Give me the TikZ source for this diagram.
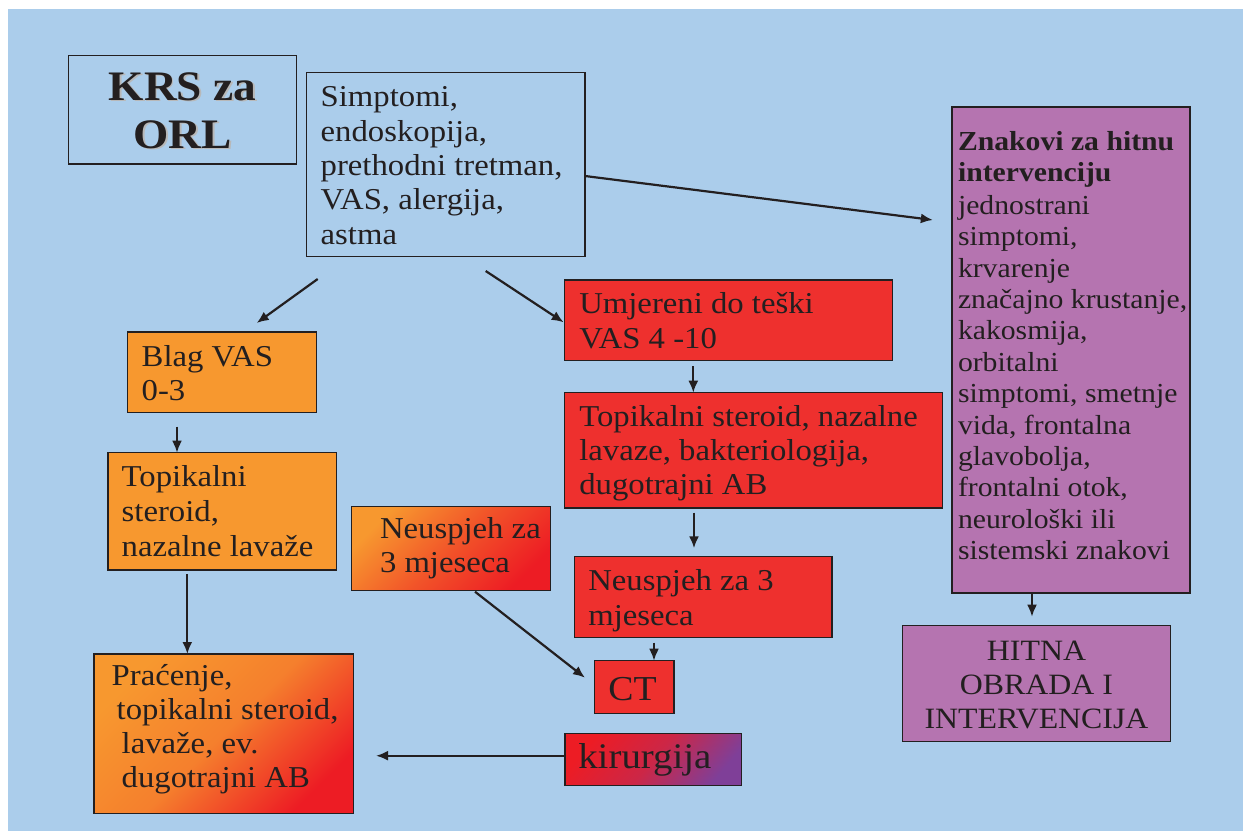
\documentclass[tikz,border=0pt]{standalone}
\usepackage{fontspec}
\setmainfont{Liberation Serif}[FakeStretch=1.08]
\usetikzlibrary{calc,arrows.meta}
\definecolor{bgblue}{HTML}{ABCDEB}
\definecolor{orangeb}{HTML}{F7982F}
\definecolor{redb}{HTML}{EE302E}
\definecolor{redg}{HTML}{ED1C24}
\definecolor{purpleb}{HTML}{B574B0}
\definecolor{purpleg}{HTML}{7F3F98}
\definecolor{ink}{HTML}{231F20}
\tikzset{
  box/.style={draw=ink, line width=1.2pt, inner sep=0pt, outer sep=0pt, anchor=north west},
  txt/.style={anchor=base west, inner sep=0pt, outer sep=0pt, text=ink},
  arr/.style={draw=ink, line width=2.2pt, -{Latex[length=12pt,width=10pt]}},
}
\begin{document}
\begin{tikzpicture}[x=1pt,y=-1pt]
\useasboundingbox (0,0) rectangle (1243,831);
\fill[white] (0,0) rectangle (1243,831);
\fill[bgblue] (8,9) rectangle (1243,831);

% boxes
\node[box, minimum width=228.4pt, minimum height=108.3pt] (krs) at (68.3,55.7) {};
\node[box, minimum width=278.3pt, minimum height=184pt] (simp) at (306.7,72.7) {};
\node[box, fill=purpleb, minimum width=238pt, minimum height=486pt] (znak) at (952,107) {};
\node[box, fill=purpleb, minimum width=268.4pt, minimum height=115.6pt] (hitna) at (902.3,625.7) {};
\node[box, fill=orangeb, minimum width=189pt, minimum height=80.7pt] (blag) at (127.7,332) {};
\node[box, fill=orangeb, minimum width=228.7pt, minimum height=117.3pt] (top1) at (108,452.7) {};
\node[box, top color=orangeb, bottom color=redg, middle color=orangeb!80!redg, shading angle=45, minimum width=259.3pt, minimum height=159.3pt] (prac) at (94,654) {};
\node[box, fill=redb, minimum width=328pt, minimum height=80.7pt] (umj) at (564.7,280) {};
\node[box, fill=redb, minimum width=377.6pt, minimum height=115.3pt] (top2) at (564.7,392.7) {};
\node[box, top color=orangeb, bottom color=redg, middle color=orangeb!45!redg, shading angle=45, minimum width=199pt, minimum height=84pt] (neu1) at (351.7,506.7) {};
\node[box, fill=redb, minimum width=257.7pt, minimum height=80.6pt] (neu2) at (574.3,556.7) {};
\node[box, fill=redb, minimum width=79.7pt, minimum height=52.6pt] (ct) at (594.3,660.7) {};
\node[box, top color=redg, bottom color=purpleg, middle color=redg!70!purpleg, shading angle=50, minimum width=176.7pt, minimum height=52.4pt] (kir) at (565,733.3) {};

% texts
\node[txt, text=black!28] (krsshadow) at (70,101.5) {\parbox[t]{228.4pt}{\centering\fontsize{42}{48.3}\selectfont\bfseries KRS za\\ORL}};
\node[txt] (krst) at (68.3,100) {\parbox[t]{228.4pt}{\centering\fontsize{42}{48.3}\selectfont\bfseries KRS za\\ORL}};
\node[txt] (simpt) at (320.7,106.7) {\parbox[t]{270pt}{\fontsize{30.3}{34.4}\selectfont Simptomi,\\endoskopija,\\prethodni tretman,\\VAS, alergija,\\astma}};
\node[txt] (znakt) at (958,150) {\parbox[t]{250pt}{\fontsize{27.5}{31.4}\selectfont\textbf{Znakovi za hitnu}\\\textbf{intervenciju}\\[1.5pt]jednostrani\\simptomi,\\krvarenje\\značajno krustanje,\\kakosmija,\\orbitalni\\simptomi, smetnje\\vida, frontalna\\glavobolja,\\frontalni otok,\\neurološki ili\\sistemski znakovi}};
\node[txt] (hitnat) at (902.3,660) {\parbox[t]{268.4pt}{\centering\fontsize{29.5}{34.2}\selectfont HITNA\\OBRADA I\\INTERVENCIJA}};
\node[txt] (blagt) at (141.7,366.7) {\parbox[t]{180pt}{\fontsize{30.3}{33.3}\selectfont Blag VAS\\0-3}};
\node[txt] (top1t) at (121.7,486.7) {\parbox[t]{230pt}{\fontsize{30.3}{34.7}\selectfont Topikalni\\steroid,\\nazalne lavaže}};
\node[txt] (pract) at (111.7,685) {\parbox[t]{260pt}{\fontsize{30.3}{34.3}\selectfont Praćenje,\\\hspace*{5pt}topikalni steroid,\\\hspace*{10pt}lavaže, ev.\\\hspace*{10pt}dugotrajni AB}};
\node[txt] (umjt) at (579.3,313.3) {\parbox[t]{320pt}{\fontsize{30.3}{35}\selectfont Umjereni do teški\\VAS 4 -10}};
\node[txt] (top2t) at (579.3,426.7) {\parbox[t]{370pt}{\fontsize{30.3}{33.7}\selectfont Topikalni steroid, nazalne\\lavaze, bakteriologija,\\dugotrajni AB}};
\node[txt] (neu1t) at (380,538.3) {\parbox[t]{200pt}{\fontsize{30.3}{34.4}\selectfont Neuspjeh za\\3 mjeseca}};
\node[txt] (neu2t) at (588.3,590) {\parbox[t]{250pt}{\fontsize{30.3}{35}\selectfont Neuspjeh za 3\\mjeseca}};
\node[txt] (ctt) at (608.3,700) {\fontsize{35}{40}\selectfont CT};
\node[txt] (kirt) at (578.3,768.3) {\fontsize{36}{40}\selectfont kirurgija};

% connectors
\draw[arr, shorten >=19.3pt] ($(simp.north east)+(0,103.3)$) -- ($(znak.north west)+(0,115.4)$);
\draw[arr] ($(simp.south west)+(11,22.3)$) -- ($(blag.north west)+(129,-9)$);
\draw[arr] ($(simp.south west)+(179,14.3)$) -- ($(umj.west)+(-1,2)$);
\draw[arr] ($(blag.south west)+(49.3,14)$) -- ($(top1.north west)+(69,0)$);
\draw[arr] ($(top1.south west)+(79.3,4)$) -- ($(prac.north west)+(93.3,0)$);
\draw[arr] ($(umj.south west)+(128.6,5.3)$) -- ($(top2.north west)+(128.6,0)$);
\draw[arr] ($(top2.south west)+(129.3,4.7)$) -- ($(neu2.north west)+(119.7,-8.4)$);
\draw[arr] ($(neu2.south west)+(79.7,5.4)$) -- ($(ct.north west)+(59.7,0)$);
\draw[arr] ($(neu1.south west)+(123.3,1)$) -- ($(ct.north west)+(-9.3,17)$);
\draw[arr] ($(kir.north west)+(0,22.4)$) -- ($(prac.north east)+(22.7,101.7)$);
\draw[arr] ($(znak.south west)+(80,0)$) -- ($(hitna.north west)+(129.7,-9)$);
\end{tikzpicture}
\end{document}
